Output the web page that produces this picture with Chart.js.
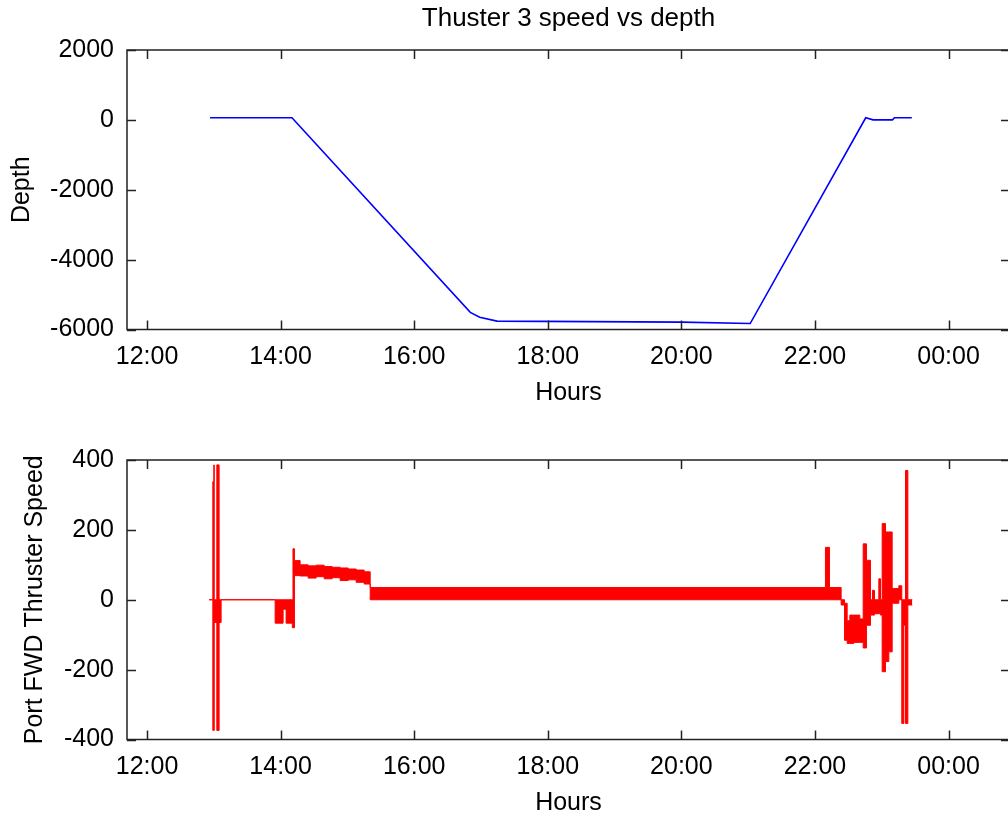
<!DOCTYPE html>
<html>
<head>
<meta charset="utf-8">
<title>Thuster 3 speed vs depth</title>
<script src="https://cdn.jsdelivr.net/npm/chart.js@4.4.1/dist/chart.umd.min.js"></script>
<style>
  html, body { margin: 0; padding: 0; background: #fff; overflow: hidden; width: 1008px; height: 817px; }
  .painel { position: absolute; left: 0; width: 1030px; height: 410px; }
</style>
</head>
<body>
<div class="painel" style="top:0px"><canvas id="chartDepth" width="1030" height="410"></canvas></div>
<div class="painel" style="top:410px"><canvas id="chartSpeed" width="1030" height="410"></canvas></div>
<script>
// Depth curve (top plot), time in decimal hours
const depthHours  = [12.944, 14.17, 16.84, 16.98, 17.24, 20.0, 21.03, 22.76, 22.87, 23.16, 23.19, 23.45];
const depthValues = [60, 60, -5510, -5650, -5760, -5790, -5830, 60, 0, 0, 60, 60];

// Port FWD thruster speed (bottom plot): min/max envelope per time step
const speedHours = [12.93, 12.985, 13.0, 13.006, 13.045, 13.079, 13.109, 13.918, 14.037, 14.082,
  14.175, 14.185, 14.207, 14.292, 14.412, 14.532, 14.652, 14.772, 14.891, 15.011,
  15.131, 15.251, 15.341, 22.157, 22.217, 22.392, 22.442, 22.482, 22.522, 22.582,
  22.672, 22.722, 22.771, 22.831, 22.861, 22.891, 22.956, 22.981, 23.006, 23.056,
  23.106, 23.156, 23.256, 23.3, 23.331, 23.356, 23.391, 23.457];
const speedMax = [0, 338, 386, 0, 386, 0, 0, 0, 0, 0,
  0, 146, 112, 100, 97, 99, 95, 93, 91, 88,
  85, 80, 35, 150, 35, 0, -10, -60, -44, -44,
  -55, 160, 113, 0, 27, 0, 60, 0, 218, 194,
  194, 32, 40, 0, 0, 370, 0, 0];
const speedMin = [0, -374, -374, -65, -374, -65, 0, -67, -27, -67,
  -80, -80, 69, 68, 62, 66, 60, 63, 55, 57,
  50, 45, 0, 0, 0, -15, -116, -125, -125, -122,
  -122, -138, -73, -44, -44, -40, -40, -44, -206, -177,
  -149, -10, 0, -354, -73, -354, -15, -15];

// Axes
const hourTicks  = [12, 14, 16, 18, 20, 22, 24];
const depthTicks = [-6000, -4000, -2000, 0, 2000];
const speedTicks = [-400, -200, 0, 200, 400];
const hourMin = 11.7;
const hourMax = 24.92;

const fonte = "'Liberation Sans', Arial, sans-serif";
const corTexto = '#000';

// frame with inward ticks on the four sides (MATLAB style)
const moldura = {
  id: 'moldura',
  afterDatasetsDraw(chart) {
    const { ctx, chartArea: a, scales: { x, y } } = chart;
    ctx.save();
    ctx.strokeStyle = '#222';
    ctx.lineWidth = 1.5;
    ctx.strokeRect(a.left, a.top, a.right - a.left, a.bottom - a.top);
    ctx.beginPath();
    x.ticks.forEach(t => {
      const px = Math.round(x.getPixelForValue(t.value)) + 0.5;
      ctx.moveTo(px, a.bottom); ctx.lineTo(px, a.bottom - 9);
      ctx.moveTo(px, a.top); ctx.lineTo(px, a.top + 9);
    });
    y.ticks.forEach(t => {
      const py = Math.round(y.getPixelForValue(t.value)) + 0.5;
      ctx.moveTo(a.left, py); ctx.lineTo(a.left + 9, py);
      ctx.moveTo(a.right, py); ctx.lineTo(a.right - 9, py);
    });
    ctx.stroke();
    ctx.restore();
  }
};

function escalaX() {
  return {
    type: 'linear',
    min: hourMin,
    max: hourMax,
    afterBuildTicks: s => { s.ticks = hourTicks.map(v => ({ value: v })); },
    afterFit: s => { s.height = 80.5; },
    grid: { display: false },
    border: { display: false },
    ticks: {
      autoSkip: false, maxRotation: 0, padding: 5, color: corTexto,
      font: { family: fonte, size: 25 },
      callback: v => String(v % 24).padStart(2, '0') + ':00'
    },
    title: { display: true, text: 'Hours', color: corTexto, font: { family: fonte, size: 25 }, padding: { top: 0, bottom: 2 } }
  };
}

function escalaY(ticks, titulo, padTitulo) {
  return {
    min: ticks[0],
    max: ticks[ticks.length - 1],
    afterBuildTicks: s => { s.ticks = ticks.map(v => ({ value: v })); },
    afterFit: s => { s.width = 127; },
    grid: { display: false },
    border: { display: false },
    ticks: { padding: 5, color: corTexto, font: { family: fonte, size: 25 }, callback: v => String(v) },
    title: { display: true, text: titulo, color: corTexto, font: { family: fonte, size: 25 }, padding: { top: padTitulo, bottom: 0 } }
  };
}

// Top plot: depth
new Chart(document.getElementById('chartDepth'), {
  type: 'line',
  data: {
    datasets: [{
      data: depthHours.map((h, i) => ({ x: h, y: depthValues[i] })),
      borderColor: '#0000ff',
      borderWidth: 1.6,
      pointRadius: 0,
      tension: 0
    }]
  },
  options: {
    responsive: false,
    animation: false,
    layout: { padding: { top: 0, right: 20, bottom: 0, left: 0 } },
    plugins: {
      legend: { display: false },
      tooltip: { enabled: false },
      title: {
        display: true, fullSize: false, text: 'Thuster 3 speed vs depth', color: corTexto,
        font: { family: fonte, size: 26, weight: 'normal' },
        padding: { top: 3, bottom: 15.8 }
      }
    },
    scales: { x: escalaX(), y: escalaY(depthTicks, 'Depth', 7) }
  },
  plugins: [moldura]
});

// Bottom plot: thruster speed (filled between max and min)
new Chart(document.getElementById('chartSpeed'), {
  type: 'line',
  data: {
    datasets: [{
      data: speedHours.map((h, i) => ({ x: h, y: speedMax[i] })),
      borderColor: '#ff0000',
      borderWidth: 1,
      pointRadius: 0,
      stepped: 'before',
      fill: false
    }, {
      data: speedHours.map((h, i) => ({ x: h, y: speedMin[i] })),
      borderColor: '#ff0000',
      backgroundColor: '#ff0000',
      borderWidth: 1,
      pointRadius: 0,
      stepped: 'before',
      fill: '-1'
    }]
  },
  options: {
    responsive: false,
    animation: false,
    layout: { padding: { top: 50, right: 20, bottom: 0, left: 0 } },
    plugins: { legend: { display: false }, tooltip: { enabled: false } },
    scales: { x: escalaX(), y: escalaY(speedTicks, 'Port FWD Thruster Speed', 20) }
  },
  plugins: [moldura]
});
</script>
</body>
</html>
